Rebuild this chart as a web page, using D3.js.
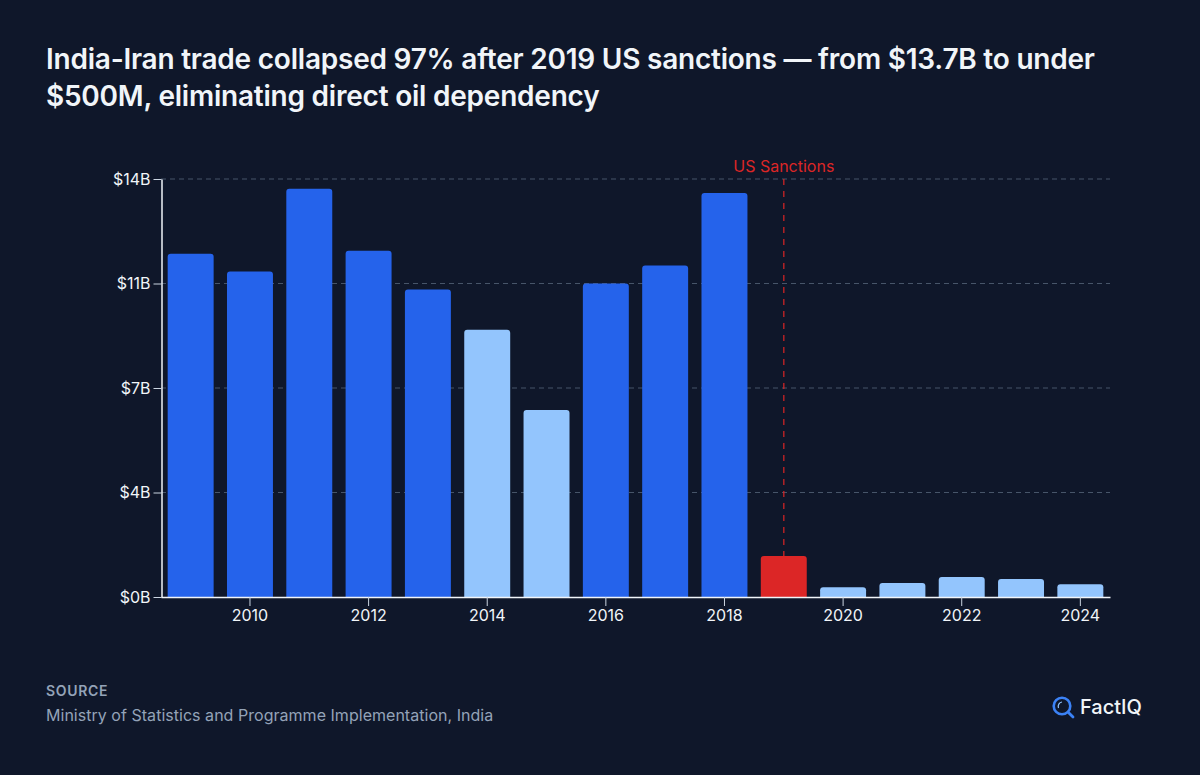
<!DOCTYPE html>
<html><head><meta charset="utf-8">
<script src="https://cdn.jsdelivr.net/npm/d3@7"></script>
<style>
html,body{margin:0;padding:0;background:#0f172a;}
svg{display:block;font-family:Inter,sans-serif;}
</style></head><body>
<svg id="c" width="1200" height="775"></svg>
<script>
const years=[2009,2010,2011,2012,2013,2014,2015,2016,2017,2018,2019,2020,2021,2022,2023,2024];
const values=[11.5,10.9,13.67,11.6,10.3,8.95,6.26,10.5,11.1,13.53,1.37,0.33,0.47,0.67,0.6,0.43];
const kinds=["h","h","h","h","h","l","l","h","h","h","s","l","l","l","l","l"];
const yTicks=[0,3.5,7,10.5,14];
const xTicks=[2010,2012,2014,2016,2018,2020,2022,2024];
const colors={h:"#2563eb",l:"#93c5fd",s:"#dc2626"};
const titleLines=["India-Iran trade collapsed 97% after 2019 US sanctions — from $13.7B to under","$500M, eliminating direct oil dependency"];

const svg=d3.select("#c");
const x=d3.scaleBand().domain(years).range([161,1110]).paddingInner(0.225).paddingOuter(0.1125);
const y=d3.scaleLinear().domain([0,14]).range([597,179]);

svg.selectAll(".title").data(titleLines).join("text").attr("class","title")
  .attr("x",46).attr("y",(d,i)=>69+i*37).attr("fill","#f1f5f9")
  .attr("font-size",28).attr("font-weight",600).attr("letter-spacing",-0.224).text(d=>d);

svg.selectAll(".grid").data(yTicks.slice(1)).join("line").attr("class","grid")
  .attr("x1",161).attr("x2",1110).attr("y1",d=>y(d)).attr("y2",d=>y(d))
  .attr("stroke","#475569").attr("stroke-width",1).attr("stroke-dasharray","5 4");

svg.selectAll(".bar").data(years).join("path").attr("class","bar")
  .attr("fill",(d,i)=>colors[kinds[i]])
  .attr("d",(d,i)=>{
    const x0=x(d),w=x.bandwidth(),t=y(values[i]),b=y(0),r=Math.min(3,(b-t));
    return `M${x0},${b}V${t+r}Q${x0},${t} ${x0+r},${t}H${x0+w-r}Q${x0+w},${t} ${x0+w},${t+r}V${b}Z`;
  });

svg.append("line")
  .attr("x1",x(2019)+x.bandwidth()/2).attr("x2",x(2019)+x.bandwidth()/2)
  .attr("y1",y(14)).attr("y2",y(values[years.indexOf(2019)]))
  .attr("stroke","#dc2626").attr("stroke-width",1.5).attr("stroke-dasharray","6 6").attr("opacity",0.8);
svg.append("text").attr("x",x(2019)+x.bandwidth()/2).attr("y",171.5).attr("text-anchor","middle")
  .attr("fill","#dc2626").attr("font-size",16).text("US Sanctions");

const gy=svg.append("g").attr("transform","translate(161.5,0)")
  .call(d3.axisLeft(y).tickValues(yTicks).tickFormat(d=>"$"+Math.round(d)+"B").tickSizeInner(8).tickSizeOuter(0).tickPadding(3));
const gx=svg.append("g").attr("transform","translate(0,597)")
  .call(d3.axisBottom(x).tickValues(xTicks).tickSizeInner(9).tickSizeOuter(0).tickPadding(4));
[gy,gx].forEach(g=>{
  g.selectAll("path").attr("stroke","#f1f5f9").attr("stroke-width",1.5);
  g.selectAll("line").attr("stroke","#cbd5e1").attr("stroke-width",1);
  g.selectAll("text").attr("fill","#f1f5f9").attr("font-size",16).attr("font-family","Inter,sans-serif");
});

svg.append("text").attr("x",46).attr("y",695.5).attr("fill","#94a3b8")
  .attr("font-size",14).attr("font-weight",600).attr("letter-spacing",0.7).text("SOURCE");
svg.append("text").attr("x",46).attr("y",720.5).attr("fill","#94a3b8")
  .attr("font-size",16).attr("letter-spacing",0.03).text("Ministry of Statistics and Programme Implementation, India");

const logo=svg.append("g").attr("transform","translate(1062,706)");
logo.append("circle").attr("r",8.3).attr("fill","none").attr("stroke","#3b82f6").attr("stroke-width",2.6);
logo.append("path").attr("d","M-3.5,2 A4.5,4.5 0 0 1 0,-4").attr("fill","none").attr("stroke","#93c5fd").attr("stroke-width",1.2);
logo.append("line").attr("x1",6.2).attr("y1",6.2).attr("x2",11).attr("y2",11).attr("stroke","#3b82f6").attr("stroke-width",2.8).attr("stroke-linecap","round");
svg.append("text").attr("x",1080).attr("y",714).attr("fill","#f1f5f9")
  .attr("font-size",20).attr("font-weight",500).text("FactIQ");
</script></body></html>
